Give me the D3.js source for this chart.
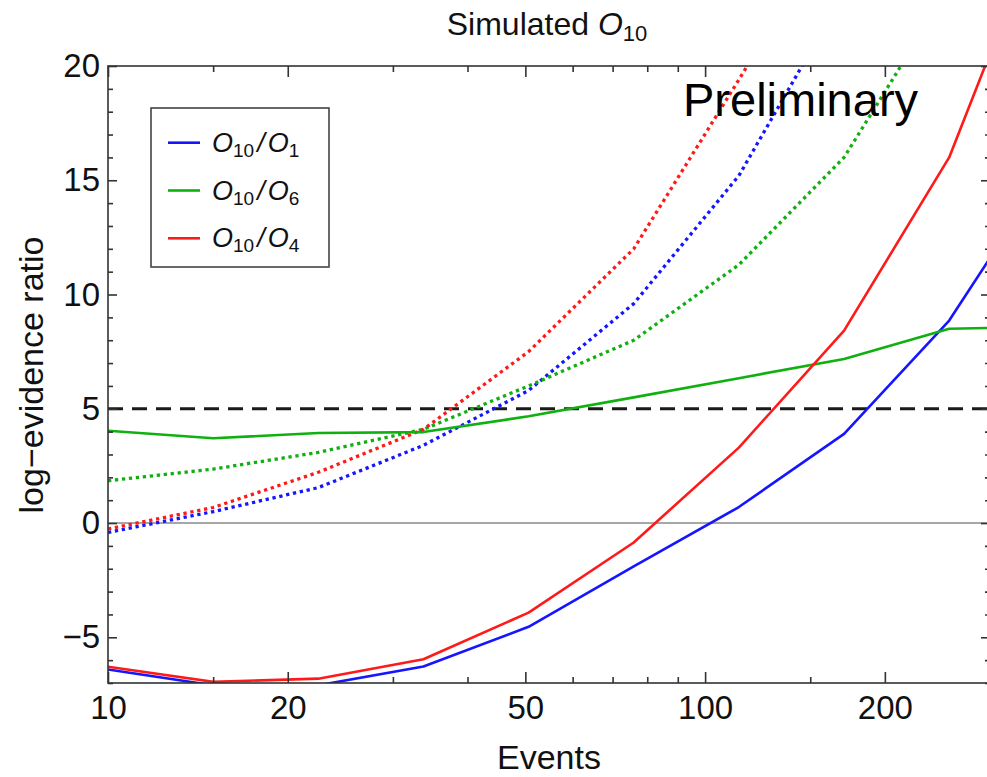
<!DOCTYPE html>
<html><head><meta charset="utf-8">
<script src="https://cdn.jsdelivr.net/npm/d3@7"></script>
<style>
body{margin:0;background:#fff}
svg{display:block}
text{font-family:"Liberation Sans",Arial,Helvetica,sans-serif;fill:#111}
</style>
</head><body><svg id="c" width="987" height="777"></svg>
<script>
// ---- data ----
const events = [10, 15, 22.5, 33.75, 50.625, 75.94, 113.9, 170.9, 256.3, 384.4];
const o1Solid  = [-6.41, -7.1, -7.1, -6.28, -4.54, -1.9, 0.7, 3.9, 8.86, 15.9];
const o6Solid  = [4.04, 3.71, 3.94, 3.98, 4.67, 5.5, 6.34, 7.18, 8.5, 8.6];
const o4Solid  = [-6.29, -6.95, -6.81, -5.96, -3.92, -0.85, 3.3, 8.42, 16.0, 27.7];
const o1Dotted = [-0.41, 0.5, 1.55, 3.4, 5.8, 9.6, 15.2, 23.2, null, null];
const o6Dotted = [1.85, 2.36, 3.09, 4.1, 6.0, 8.0, 11.3, 16.0, 23.4, null];
const o4Dotted = [-0.26, 0.68, 2.22, 4.1, 7.5, 12.0, 19.4, 27.0, null, null];
const seriesNames = ["O10/O1", "O10/O6", "O10/O4"];
const legendSubs = [["10", "1"], ["10", "6"], ["10", "4"]];
const xMajorTicks = [10, 20, 50, 100, 200];
const xMinorTicks = [15, 30, 40, 60, 70, 80, 90, 150, 300];
const yMajorTicks = [-5, 0, 5, 10, 15, 20];
const yMinorTicks = [-7, -6, -4, -3, -2, -1, 1, 2, 3, 4, 6, 7, 8, 9, 11, 12, 13, 14, 16, 17, 18, 19];
const threshold = 5;

// ---- layout ----
const L = 108, R = 990, T = 66, B = 683;
const colors = {O1: "#1515ff", O6: "#10b010", O4: "#ff1a1a"};
const svg = d3.select("#c");
const x = d3.scaleLog().domain([10, 300]).range([L, R]);
const y = d3.scaleLinear().domain([-7, 20]).range([B, T]);

svg.append("defs").append("clipPath").attr("id", "clip")
  .append("rect").attr("x", L).attr("y", T).attr("width", R - L).attr("height", B - T);

const plot = svg.append("g").attr("clip-path", "url(#clip)");

// zero line
plot.append("line").attr("x1", L).attr("x2", R).attr("y1", y(0)).attr("y2", y(0))
  .attr("stroke", "#8a8a8a").attr("stroke-width", 1.6);
// threshold dashed
plot.append("line").attr("x1", L).attr("x2", R).attr("y1", y(threshold)).attr("y2", y(threshold))
  .attr("stroke", "#1a1a1a").attr("stroke-width", 3).attr("stroke-dasharray", "15,9");

const line = d3.line().defined(d => d[1] !== null).x(d => x(d[0])).y(d => y(d[1]));
function draw(vals, color, dotted) {
  const pts = events.map((e, i) => [e, vals[i]]);
  const p = plot.append("path").attr("d", line(pts)).attr("fill", "none")
    .attr("stroke", color).attr("stroke-linejoin", "round");
  if (dotted) p.attr("stroke-width", 3.3).attr("stroke-dasharray", "3.3,3.7");
  else p.attr("stroke-width", 2.6);
}
draw(o1Dotted, colors.O1, true);
draw(o6Dotted, colors.O6, true);
draw(o4Dotted, colors.O4, true);
draw(o1Solid, colors.O1, false);
draw(o6Solid, colors.O6, false);
draw(o4Solid, colors.O4, false);

// ---- axes (frame with inward ticks) ----
const fmt = d3.format("");
function styleAxis(g) {
  g.select(".domain").remove();
  g.selectAll(".tick line").attr("stroke", "#333").attr("stroke-width", 1.6);
  g.selectAll(".tick text").attr("fill", "#111").style("font-size", "33px")
    .style("font-family", '"Liberation Sans",Arial,sans-serif');
}
svg.append("g").attr("transform", `translate(0,${B})`)
  .call(d3.axisBottom(x).tickValues(xMajorTicks).tickFormat(fmt).tickSizeInner(-11).tickSizeOuter(0).tickPadding(13))
  .call(styleAxis);
svg.append("g").attr("transform", `translate(0,${B})`)
  .call(d3.axisBottom(x).tickValues(xMinorTicks).tickFormat("").tickSizeInner(-6).tickSizeOuter(0))
  .call(styleAxis);
svg.append("g").attr("transform", `translate(0,${T})`)
  .call(d3.axisTop(x).tickValues(xMajorTicks).tickFormat("").tickSizeInner(-11).tickSizeOuter(0))
  .call(styleAxis);
svg.append("g").attr("transform", `translate(0,${T})`)
  .call(d3.axisTop(x).tickValues(xMinorTicks).tickFormat("").tickSizeInner(-6).tickSizeOuter(0))
  .call(styleAxis);
svg.append("g").attr("transform", `translate(${L},0)`)
  .call(d3.axisLeft(y).tickValues(yMajorTicks).tickFormat(d3.format("")).tickSizeInner(-9).tickSizeOuter(0).tickPadding(8))
  .call(styleAxis);
svg.append("g").attr("transform", `translate(${L},0)`)
  .call(d3.axisLeft(y).tickValues(yMinorTicks).tickFormat("").tickSizeInner(-5).tickSizeOuter(0))
  .call(styleAxis);
svg.append("g").attr("transform", `translate(${R},0)`)
  .call(d3.axisRight(y).tickValues(yMajorTicks).tickFormat("").tickSizeInner(-9).tickSizeOuter(0))
  .call(styleAxis);
svg.append("g").attr("transform", `translate(${R},0)`)
  .call(d3.axisRight(y).tickValues(yMinorTicks).tickFormat("").tickSizeInner(-5).tickSizeOuter(0))
  .call(styleAxis);

svg.append("rect").attr("x", L).attr("y", T).attr("width", R - L).attr("height", B - T)
  .attr("fill", "none").attr("stroke", "#333").attr("stroke-width", 1.6);

// ---- titles ----
const title = svg.append("text").attr("x", 547).attr("y", 35).attr("text-anchor", "middle")
  .style("font-size", "32px");
title.append("tspan").text("Simulated ");
title.append("tspan").style("font-style", "italic").text("O");
title.append("tspan").attr("dy", 6).style("font-size", "22px").text("10");

svg.append("text").attr("x", 549).attr("y", 769).attr("text-anchor", "middle")
  .style("font-size", "34px").text("Events");
svg.append("text").attr("transform", "translate(43,375) rotate(-90)").attr("text-anchor", "middle")
  .style("font-size", "34px").text("log\u2212evidence ratio");

svg.append("text").attr("x", 683).attr("y", 116).style("font-size", "47px").style("fill", "#000")
  .text("Preliminary");

// ---- legend ----
const lg = svg.append("g");
lg.append("rect").attr("x", 151).attr("y", 108).attr("width", 178).attr("height", 159)
  .attr("fill", "#fff").attr("stroke", "#444").attr("stroke-width", 1.6);
const legendColors = [colors.O1, colors.O6, colors.O4];
seriesNames.forEach((name, i) => {
  const cy = 142.7 + i * 47.8;
  lg.append("line").attr("x1", 168).attr("x2", 200).attr("y1", cy).attr("y2", cy)
    .attr("stroke", legendColors[i]).attr("stroke-width", 2.6);
  const t = lg.append("text").attr("x", 212).attr("y", cy + 9).style("font-size", "27px");
  t.append("tspan").style("font-style", "italic").text("O");
  t.append("tspan").attr("dy", 5).style("font-size", "19px").text(legendSubs[i][0]);
  t.append("tspan").attr("dy", -5).attr("dx", 3).style("font-style", "italic").text("/");
  t.append("tspan").attr("dx", 3).style("font-style", "italic").text("O");
  t.append("tspan").attr("dy", 5).style("font-size", "19px").text(legendSubs[i][1]);
});
</script>
</body></html>
